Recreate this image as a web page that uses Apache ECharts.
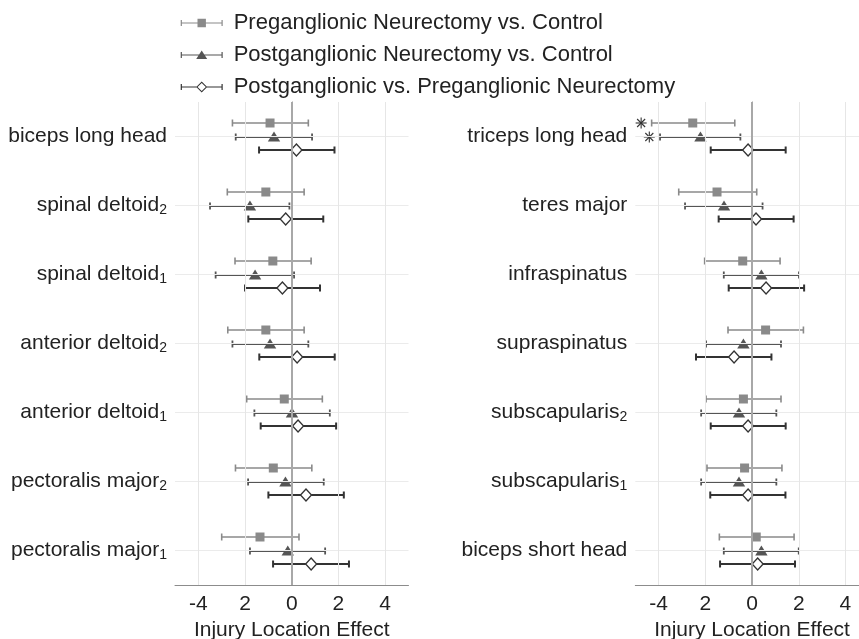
<!DOCTYPE html>
<html><head><meta charset="utf-8">
<script src="https://cdn.jsdelivr.net/npm/echarts@6/dist/echarts.min.js"></script>
<style>html,body{margin:0;padding:0;background:#fff}#c{width:859px;height:639px}</style>
</head><body><div id="c"></div>
<script>
// ---------------- DATA ----------------
const seriesNames = [
  'Preganglionic Neurectomy vs. Control',
  'Postganglionic Neurectomy vs. Control',
  'Postganglionic vs. Preganglionic Neurectomy'
];
const leftCategories = ['biceps long head','spinal deltoid_2','spinal deltoid_1','anterior deltoid_2','anterior deltoid_1','pectoralis major_2','pectoralis major_1'];
const rightCategories = ['triceps long head','teres major','infraspinatus','supraspinatus','subscapularis_2','subscapularis_1','biceps short head'];

// left panel (top to bottom)
const leftPreMean  = [-0.93, -1.11, -0.81, -1.11, -0.32, -0.79, -1.36];
const leftPreLo    = [-2.54, -2.76, -2.43, -2.74, -1.93, -2.41, -3.00];
const leftPreHi    = [ 0.71,  0.53,  0.83,  0.53,  1.31,  0.86,  0.31];
const leftPostMean = [-0.76, -1.79, -1.57, -0.93,  0.01, -0.27, -0.17];
const leftPostLo   = [-2.40, -3.50, -3.26, -2.54, -1.60, -1.87, -1.79];
const leftPostHi   = [ 0.87, -0.10,  0.10,  0.71,  1.63,  1.37,  1.43];
const leftDiffMean = [ 0.20, -0.26, -0.40,  0.23,  0.27,  0.61,  0.83];
const leftDiffLo   = [-1.40, -1.86, -2.00, -1.39, -1.33, -1.00, -0.80];
const leftDiffHi   = [ 1.83,  1.35,  1.21,  1.84,  1.90,  2.23,  2.45];

// right panel (top to bottom)
const rightPreMean  = [-2.54, -1.50, -0.40,  0.58, -0.37, -0.32,  0.18];
const rightPreLo    = [-4.30, -3.14, -2.03, -1.03, -1.97, -1.93, -1.40];
const rightPreHi    = [-0.74,  0.20,  1.20,  2.20,  1.24,  1.28,  1.80];
const rightPostMean = [-2.21, -1.20,  0.40, -0.37, -0.56, -0.56,  0.40];
const rightPostLo   = [-3.94, -2.87, -1.21, -1.97, -2.18, -2.18, -1.21];
const rightPostHi   = [-0.50,  0.45,  2.01,  1.24,  1.04,  1.04,  2.00];
const rightDiffMean = [-0.17,  0.17,  0.60, -0.77, -0.17, -0.17,  0.24];
const rightDiffLo   = [-1.77, -1.43, -1.00, -2.40, -1.77, -1.79, -1.37];
const rightDiffHi   = [ 1.44,  1.78,  2.23,  0.83,  1.44,  1.43,  1.84];

// significance asterisks (right panel)
const sigX      = [-4.75, -4.40];
const sigCat    = [0, 0];
const sigSeries = [0, 1];

const xTickValues = [-4, -2, 0, 2, 4];
const xTickLabels = ['-4', '2', '0', '2', '4'];
const xAxisTitle = 'Injury Location Effect';

// ---------------- STYLE ----------------
const FONT = 'Liberation Sans, Arial, Helvetica, sans-serif';
const styles = [
  {color:'#8a8a8a', lw:1.6, offset:-0.2, marker:'square'},
  {color:'#555555', lw:1.8, offset:0.0, marker:'triangle'},
  {color:'#333333', lw:2.0, offset:0.2, marker:'diamond'}
];
const BOX = 'M0 0 M42 12 ';
const legendIcons = [
  'path://' + BOX + 'M0 3H1.2V9H0Z M40.8 3H42V9H40.8Z M0 5.4H42V6.6H0Z M16.8 1.8H25.2V10.2H16.8Z',
  'path://' + BOX + 'M0 3H1.2V9H0Z M40.8 3H42V9H40.8Z M0 5.4H42V6.6H0Z M21 1.5L26.5 10L15.5 10Z',
  'path://' + BOX + 'M0 3H1.2V9H0Z M40.8 3H42V9H40.8Z M0 5.4H15.8V6.6H0Z M26.2 5.4H42V6.6H26.2Z M21 0.5L26.5 6L21 11.5L15.5 6Z M21 1.9L16.9 6L21 10.1L25.1 6Z'
];

function build(mean, lo, hi) {
  return mean.map((m, i) => [m, i, lo[i], hi[i]]);
}

function makeRender(st) {
  return function (params, api) {
    const cat = api.value(1);
    const band = api.size([0, 1])[1];
    const dy = st.offset * band;
    const m = api.coord([api.value(0), cat]);
    const l = api.coord([api.value(2), cat]);
    const h = api.coord([api.value(3), cat]);
    const y = Math.round(m[1] + dy);
    const cap = 3.5;
    const ls = {stroke: st.color, lineWidth: st.lw};
    const ch = [
      {type:'line', shape:{x1:l[0], y1:y, x2:h[0], y2:y}, style:ls},
      {type:'line', shape:{x1:l[0], y1:y-cap, x2:l[0], y2:y+cap}, style:ls},
      {type:'line', shape:{x1:h[0], y1:y-cap, x2:h[0], y2:y+cap}, style:ls}
    ];
    const x = m[0];
    if (st.marker === 'square') {
      ch.push({type:'rect', shape:{x:x-4.5, y:y-4.5, width:9, height:9}, style:{fill:st.color}});
    } else if (st.marker === 'triangle') {
      ch.push({type:'polygon', shape:{points:[[x, y-5.5],[x+6.2, y+4.5],[x-6.2, y+4.5]]}, style:{fill:st.color}});
    } else {
      ch.push({type:'polygon', shape:{points:[[x, y-6],[x+5.5, y],[x, y+6],[x-5.5, y]]}, style:{fill:'#fff', stroke:st.color, lineWidth:1.3}});
    }
    return {type:'group', children:ch};
  };
}

function renderStar(params, api) {
  const cat = api.value(1);
  const band = api.size([0, 1])[1];
  const dy = styles[api.value(2)].offset * band;
  const p = api.coord([api.value(0), cat]);
  const x = p[0], y = Math.round(p[1] + dy), r = 5.5, d = 4;
  const s = {stroke:'#333', lineWidth:1.1};
  return {type:'group', children:[
    {type:'line', shape:{x1:x-r, y1:y, x2:x+r, y2:y}, style:s},
    {type:'line', shape:{x1:x, y1:y-r, x2:x, y2:y+r}, style:s},
    {type:'line', shape:{x1:x-d, y1:y-d, x2:x+d, y2:y+d}, style:s},
    {type:'line', shape:{x1:x-d, y1:y+d, x2:x+d, y2:y-d}, style:s}
  ]};
}

function fmtCat(v) {
  return v.replace(/_(\d)$/, '{s|$1}');
}

function xAxisFor(gi) {
  return {
    gridIndex: gi, type:'value', min:-5, max:5,
    axisLine:{show:true, onZero:false, lineStyle:{color:'#8c8c8c', width:1}},
    axisTick:{show:true, inside:true, length:4, customValues:xTickValues, lineStyle:{color:'#8c8c8c'}},
    axisLabel:{customValues:xTickValues, formatter:v => xTickLabels[xTickValues.indexOf(v)],
      fontSize:21, color:'#222', margin:9, fontFamily:FONT},
    splitLine:{show:false},
    name:xAxisTitle, nameLocation:'middle', nameGap:33,
    nameTextStyle:{fontSize:21, color:'#222', fontFamily:FONT}
  };
}
function yAxisFor(gi, cats) {
  return {
    gridIndex: gi, type:'category', data:cats, inverse:true,
    axisLine:{show:true, lineStyle:{color:'#8c8c8c', width:1}},
    axisTick:{show:true, inside:true, alignWithLabel:true, length:4, lineStyle:{color:'#8c8c8c'}},
    axisLabel:{fontSize:21, color:'#222', margin:8, fontFamily:FONT, formatter:fmtCat,
      rich:{s:{fontSize:14, color:'#222', fontFamily:FONT, verticalAlign:'bottom', padding:[9,0,0,0]}}},
    splitLine:{show:false}
  };
}
function gridSeries(gi, cats) {
  const lines = [];
  cats.forEach(c => lines.push({yAxis:c, lineStyle:{color:'#ebebeb', width:1}}));
  xTickValues.forEach(v => lines.push({xAxis:v, lineStyle: v === 0 ? {color:'#a8a8a8', width:2} : {color:'#e6e6e6', width:1}}));
  return {
    type:'line', xAxisIndex:gi, yAxisIndex:gi, data:[], z:1, silent:true,
    markLine:{silent:true, symbol:'none', label:{show:false}, animation:false,
      lineStyle:{type:'solid'}, data:lines}
  };
}
function dataSeries(gi, idx, mean, lo, hi) {
  return {
    type:'custom', name:seriesNames[idx], xAxisIndex:gi, yAxisIndex:gi, z:3,
    itemStyle:{color:styles[idx].color},
    encode:{x:[0,2,3], y:1},
    renderItem:makeRender(styles[idx]),
    data:build(mean, lo, hi)
  };
}

const chart = echarts.init(document.getElementById('c'), null, {renderer:'canvas'});
chart.setOption({
  animation:false,
  backgroundColor:'#fff',
  textStyle:{fontFamily:FONT},
  legend:{
    orient:'vertical', left:175.7, top:7, itemGap:10, itemWidth:54, itemHeight:12,
    selectedMode:false,
    itemStyle:{borderWidth:0},
    textStyle:{fontSize:22, color:'#222', fontFamily:FONT},
    data:seriesNames.map((n, i) => ({name:n, icon:legendIcons[i]}))
  },
  grid:[
    {left:175, top:102, width:233.5, height:483, containLabel:false, outerBoundsMode:'none'},
    {left:635.3, top:102, width:233.5, height:483, containLabel:false, outerBoundsMode:'none'}
  ],
  xAxis:[xAxisFor(0), xAxisFor(1)],
  yAxis:[yAxisFor(0, leftCategories), yAxisFor(1, rightCategories)],
  series:[
    gridSeries(0, leftCategories),
    gridSeries(1, rightCategories),
    dataSeries(0, 0, leftPreMean, leftPreLo, leftPreHi),
    dataSeries(0, 1, leftPostMean, leftPostLo, leftPostHi),
    dataSeries(0, 2, leftDiffMean, leftDiffLo, leftDiffHi),
    dataSeries(1, 0, rightPreMean, rightPreLo, rightPreHi),
    dataSeries(1, 1, rightPostMean, rightPostLo, rightPostHi),
    dataSeries(1, 2, rightDiffMean, rightDiffLo, rightDiffHi),
    {
      type:'custom', name:'significance', xAxisIndex:1, yAxisIndex:1, z:3,
      encode:{x:0, y:1}, renderItem:renderStar,
      data:sigX.map((x, i) => [x, sigCat[i], sigSeries[i]])
    }
  ]
});
</script></body></html>
